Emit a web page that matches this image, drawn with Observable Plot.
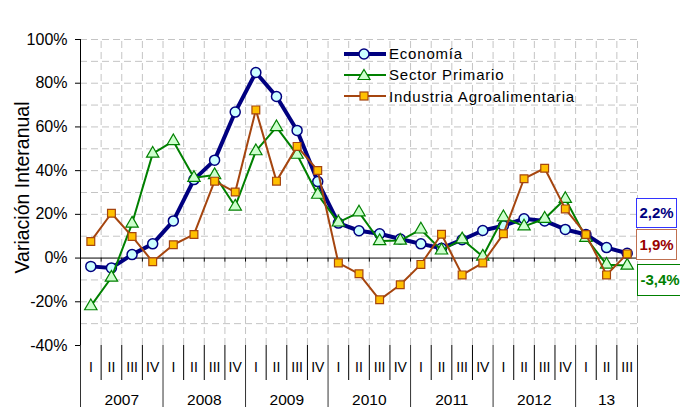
<!DOCTYPE html>
<html><head><meta charset="utf-8">
<script src="https://cdn.jsdelivr.net/npm/d3@7"></script>
<script src="https://cdn.jsdelivr.net/npm/@observablehq/plot@0.6"></script>
<style>
body{margin:0;background:#fff;}
#wrap{position:relative;width:680px;height:407px;font-family:"Liberation Sans",Arial,sans-serif;overflow:hidden;}
#legend{position:absolute;left:344px;top:43px;font-size:15px;letter-spacing:0.8px;color:#000;}
#legend .row{display:flex;align-items:center;height:21.3px;}
#legend svg{margin-right:3px;}
.endlab{position:absolute;box-sizing:border-box;font-weight:bold;font-size:15px;text-align:center;background:#fff;}
</style></head><body><div id="wrap"></div>
<script>
// ---- data ----
const quarters = ["I","II","III","IV","I","II","III","IV","I","II","III","IV","I","II","III","IV","I","II","III","IV","I","II","III","IV","I","II","III"];
const yearLabels = ["2007","2008","2009","2010","2011","2012","13"];
const yearQuarterCounts = [4,4,4,4,4,4,3];
const economia  = [-3.8,-4.5,1.6,6.5,17.0,35.9,44.8,66.8,84.9,73.9,58.4,35.0,16.0,12.5,11.1,8.7,6.5,4.5,8.4,12.6,14.8,18.0,17.0,13.1,10.8,4.8,2.2];
const primario  = [-22.0,-8.9,15.8,47.8,53.5,36.7,38.0,23.6,48.9,59.9,47.3,29.0,16.3,20.9,7.8,8.0,13.1,3.5,8.6,0.7,18.7,14.5,18.0,27.1,9.3,-3.0,-3.4];
const industria = [7.6,20.5,9.9,-1.7,6.1,10.8,35.2,30.2,67.8,35.2,51.1,40.1,-2.2,-7.2,-19.1,-12.2,-2.9,10.9,-7.7,-2.2,11.1,36.3,41.1,22.5,10.8,-7.7,1.9];
const seriesNames = ["Economía","Sector Primario","Industria Agroalimentaria"];
const endLabels = ["2,2%","1,9%","-3,4%"];
const yTicks = [-40,-20,0,20,40,60,80,100];
const yTitle = "Variación Interanual";

// ---- derived ----
const n = quarters.length;
const idx = d3.range(n);
const yearStarts = yearQuarterCounts.map((c,k)=>d3.sum(yearQuarterCounts.slice(0,k)));
const yearBounds = [...yearStarts, n];
const quarterBounds = d3.range(1,n).filter(b=>!yearStarts.includes(b));
const yMin = d3.min(yTicks), yMax = d3.max(yTicks);
const gridY = d3.range(yMin+10, yMax+1, 10).filter(v=>v!==0);
const cx = i=>i+0.5;

const colors = {eco:"#000080", pri:"#008000", ind:"#a5450f"};

const chart = Plot.plot({
  width:680, height:407,
  marginLeft:80, marginRight:43, marginTop:39, marginBottom:62,
  style:{fontFamily:"Liberation Sans, Arial, sans-serif", fontSize:"15px", color:"#000", background:"#fff", overflow:"visible"},
  x:{domain:[0,n], axis:null},
  y:{domain:[yMin,yMax], axis:null},
  marks:[
    Plot.ruleY(gridY, {stroke:"#c4c4c4", strokeDasharray:"7,4"}),
    Plot.ruleX(d3.range(1,n+1), {y1:yMin, y2:yMax, stroke:"#c4c4c4", strokeDasharray:"7,4"}),
    Plot.ruleY([0], {stroke:"#000", strokeWidth:1}),
    Plot.ruleX(d3.range(1,n), {y1:0, y2:0, insetBottom:-4, stroke:"#000"}),
    Plot.ruleX([0], {y1:yMin, y2:yMax, stroke:"#000"}),
    Plot.axisY(yTicks, {tickFormat:d=>d+"%", tickSize:5, tickPadding:8, fontSize:16, label:null}),
    Plot.text([yTitle], {frameAnchor:"left", textAnchor:"middle", rotate:-90, dx:-58, dy:-5, fontSize:19.5}),
    // bottom category axis
    Plot.ruleX(quarterBounds, {y1:yMin, y2:yMin, insetBottom:-35, stroke:"#000"}),
    Plot.ruleX(yearBounds, {y1:yMin, y2:yMin, insetBottom:-62, stroke:"#333"}),
    Plot.text(idx, {x:cx, y:()=>yMin, text:i=>quarters[i], dy:22, fontSize:14, fill:"#000"}),
    Plot.text(yearLabels.map((_,k)=>k), {x:k=>yearStarts[k]+yearQuarterCounts[k]/2, y:()=>yMin, text:k=>yearLabels[k], dy:55, fontSize:15.5, fill:"#000"}),
    // series
    Plot.line(idx, {x:cx, y:i=>economia[i], stroke:colors.eco, strokeWidth:4}),
    Plot.dot(idx, {x:cx, y:i=>economia[i], symbol:"circle", r:5, fill:"#ccffff", stroke:colors.eco, strokeWidth:1.5}),
    Plot.line(idx, {x:cx, y:i=>primario[i], stroke:colors.pri, strokeWidth:2}),
    Plot.dot(idx, {x:cx, y:i=>primario[i], symbol:"triangle", r:4.6, fill:"#ccffcc", stroke:colors.pri, strokeWidth:1.2}),
    Plot.line(idx, {x:cx, y:i=>industria[i], stroke:colors.ind, strokeWidth:2}),
    Plot.dot(idx, {x:cx, y:i=>industria[i], symbol:"square", r:4.4, fill:"#ffc000", stroke:colors.ind, strokeWidth:1.2}),
  ]
});
const wrap = document.getElementById("wrap");
wrap.appendChild(chart);

// legend
const legend = document.createElement("div");
legend.id = "legend";
const sym = [
  `<circle cx="20" cy="7" r="5" fill="#ccffff" stroke="${colors.eco}" stroke-width="1.5"/>`,
  `<path d="M20,1.5 L26,11.5 L14,11.5 Z" fill="#ccffcc" stroke="${colors.pri}" stroke-width="1.2"/>`,
  `<rect x="16" y="3" width="8" height="8" fill="#ffc000" stroke="${colors.ind}" stroke-width="1.2"/>`
];
const lc = [colors.eco, colors.pri, colors.ind];
const lw = [4,2,2];
seriesNames.forEach((name,k)=>{
  const row = document.createElement("div");
  row.className = "row";
  row.innerHTML = `<svg width="42" height="14"><line x1="0" y1="7" x2="42" y2="7" stroke="${lc[k]}" stroke-width="${lw[k]}"/>${sym[k]}</svg><span>${name}</span>`;
  legend.appendChild(row);
});
wrap.appendChild(legend);

// end labels
const boxes = [
  {left:636, top:198, w:41, h:30, border:"#3333ff", color:"#000080"},
  {left:636, top:229, w:41, h:31, border:"#c07050", color:"#990000"},
  {left:637, top:264, w:46, h:32, border:"#008000", color:"#008000"}
];
endLabels.forEach((t,k)=>{
  const b = boxes[k];
  const d = document.createElement("div");
  d.className = "endlab";
  d.style.cssText = `left:${b.left}px;top:${b.top}px;width:${b.w}px;height:${b.h}px;line-height:${b.h-2}px;border:1px solid ${b.border};color:${b.color};`;
  d.textContent = t;
  wrap.appendChild(d);
});
</script></body></html>
